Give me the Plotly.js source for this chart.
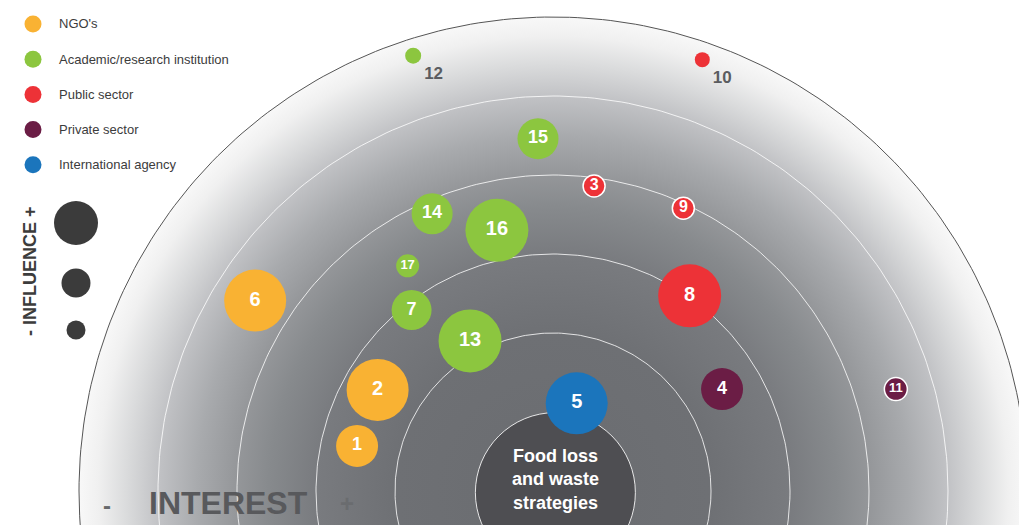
<!DOCTYPE html>
<html><head><meta charset="utf-8">
<script src="https://cdn.plot.ly/plotly-3.0.1.min.js"></script>
<style>html,body{margin:0;padding:0;background:#fff;}#chart{width:1019px;height:525px;}</style>
</head><body><div id="chart"></div>
<script>
// ---- data ----
const categories = ["NGO's", "Academic/research institution", "Public sector", "Private sector", "International agency"];
const categoryColors = ['#f9b233', '#8cc63f', '#ed3237', '#6b1d45', '#1b75bc'];
const stakeholderIds = ['1','2','3','4','5','6','7','8','9','10','11','12','13','14','15','16','17'];
const stakeholderGroup = [0, 0, 2, 3, 4, 0, 1, 2, 2, 2, 3, 1, 1, 1, 1, 1, 1];
const interestX = [-2.48, -2.22, 0.52, 2.14, 0.30, -3.77, -1.79, 1.73, 1.65, 1.89, 4.34, -1.77, -1.05, -1.53, -0.19, -0.71, -1.84];
const proximityY = [0.57, 1.28, 3.86, 1.29, 1.11, 2.41, 2.29, 2.47, 3.58, 5.46, 1.29, 5.51, 1.90, 3.51, 4.46, 3.30, 2.85];
const influence = [4.2, 6.2, 2.2, 4.2, 6.2, 6.2, 4.0, 6.3, 2.2, 1.5, 2.3, 1.6, 6.3, 4.1, 4.1, 6.3, 2.3];
const ringLevels = [1, 2, 3, 4, 5];
const outerLevel = 6;
const influenceLegend = [4.4, 2.9, 1.9];
const centreLabel = 'Food loss<br>and waste<br>strategies';

// ---- helpers (geometry) ----
function circlePts(r) {
  const xs = [], ys = [];
  for (let i = 0; i <= 360; i++) {
    const a = i * Math.PI / 180;
    xs.push(r * Math.cos(a)); ys.push(r * Math.sin(a));
  }
  return {x: xs, y: ys};
}
const FONT = 'Liberation Sans, Arial, Helvetica, sans-serif';
const traces = [];

// background disc with radial gradient
const disc = circlePts(outerLevel);
traces.push({
  type: 'scatter', mode: 'lines', x: disc.x, y: disc.y, fill: 'toself',
  fillgradient: {type: 'radial', colorscale: [
    [0, '#6a6c70'], [0.33, '#6e7074'], [0.5, '#797b7f'], [0.6, '#878a8d'],
    [0.67, '#95979a'], [0.75, '#a8aaad'], [0.83, '#c0c1c4'], [0.9, '#dadbdc'], [0.96, '#f0f0f0'], [1, '#f8f8f8']]},
  line: {color: '#555555', width: 1}, hoverinfo: 'skip', showlegend: false
});
// rings
ringLevels.slice(1).forEach(r => {
  const c = circlePts(r);
  traces.push({type: 'scatter', mode: 'lines', x: c.x, y: c.y,
    line: {color: 'rgba(255,255,255,0.8)', width: 1}, hoverinfo: 'skip', showlegend: false});
});
// centre circle
traces.push({type: 'scatter', mode: 'markers', x: [0.03], y: [-0.02],
  marker: {size: 160, color: '#4e4e52', line: {color: 'rgba(255,255,255,0.85)', width: 1}},
  hoverinfo: 'skip', showlegend: false});

// stakeholders by category
categories.forEach((cat, g) => {
  const idx = stakeholderIds.map((_, i) => i).filter(i => stakeholderGroup[i] === g);
  traces.push({
    type: 'scatter', mode: 'markers+text', name: cat, showlegend: false,
    x: idx.map(i => interestX[i]), y: idx.map(i => proximityY[i]),
    text: idx.map(i => stakeholderIds[i]),
    textposition: idx.map(i => influence[i] < 2 ? 'bottom right' : 'middle center'),
    textfont: {
      family: FONT, weight: 'bold',
      color: idx.map(i => influence[i] < 2 ? '#5a5c60' : '#ffffff'),
      size: idx.map(i => influence[i] >= 5.5 ? 20 : influence[i] >= 3.5 ? 18 : influence[i] >= 2.2 && stakeholderIds[i].length === 1 ? 16 : influence[i] < 2 ? 17 : 13)
    },
    marker: {
      size: idx.map(i => influence[i]), sizeref: 0.1, sizemode: 'diameter',
      color: categoryColors[g], opacity: 1,
      line: {color: '#ffffff', width: idx.map(i => (influence[i] >= 2 && influence[i] < 2.3 || stakeholderIds[i] === '11') ? 1.5 : 0)}
    },
    hoverinfo: 'text'
  });
});

// ---- layout decorations ----
const W = 1019, H = 525;
const px = v => v / W, py = v => 1 - v / H;
const shapes = [], annotations = [];
categories.forEach((cat, g) => {
  const yc = 24 + g * 35.2;
  shapes.push({type: 'circle', xref: 'paper', yref: 'paper', xsizemode: 'pixel', ysizemode: 'pixel',
    xanchor: px(33), yanchor: py(yc), x0: -8.5, x1: 8.5, y0: -8.5, y1: 8.5,
    fillcolor: categoryColors[g], line: {width: 0}});
  annotations.push({xref: 'paper', yref: 'paper', x: px(57), y: py(yc), xanchor: 'left', yanchor: 'middle',
    text: cat, showarrow: false, font: {family: FONT, size: 13, color: '#3c3c3c'}});
});
const infY = [223, 283, 330];
influenceLegend.forEach((v, k) => {
  const r = v * 10 / 2;
  shapes.push({type: 'circle', xref: 'paper', yref: 'paper', xsizemode: 'pixel', ysizemode: 'pixel',
    xanchor: px(76), yanchor: py(infY[k]), x0: -r, x1: r, y0: -r, y1: r,
    fillcolor: '#3b3b3b', line: {width: 0}});
});
function note(x, y, text, size, color, extra) {
  annotations.push(Object.assign({xref: 'paper', yref: 'paper', x: px(x), y: py(y), xanchor: 'center', yanchor: 'middle',
    text: text, showarrow: false, font: {family: FONT, size: size, weight: 'bold', color: color}}, extra || {}));
}
note(30, 271, '- INFLUENCE +', 18, '#3c3c3c', {textangle: -90});
note(107, 505, '-', 24, '#66686b');
note(228, 503, 'INTEREST', 32, '#58595c');
note(347, 503, '+', 24, '#6a6c6f');
annotations.push({xref: 'x', yref: 'y', x: 0.03, y: 0.15, xanchor: 'center', yanchor: 'middle', text: centreLabel, showarrow: false,
  font: {family: FONT, size: 18, weight: 'bold', color: '#ffffff'}});

const layout = {
  width: W, height: H, margin: {l: 0, r: 0, t: 0, b: 0}, paper_bgcolor: '#ffffff', plot_bgcolor: '#ffffff',
  xaxis: {range: [-553 / 79, (W - 553) / 79], visible: false, fixedrange: true},
  yaxis: {range: [-34 / 79, 491 / 79], visible: false, fixedrange: true},
  showlegend: false, shapes: shapes, annotations: annotations, font: {family: FONT}
};
Plotly.newPlot('chart', traces, layout, {displayModeBar: false, staticPlot: true});
</script></body></html>
